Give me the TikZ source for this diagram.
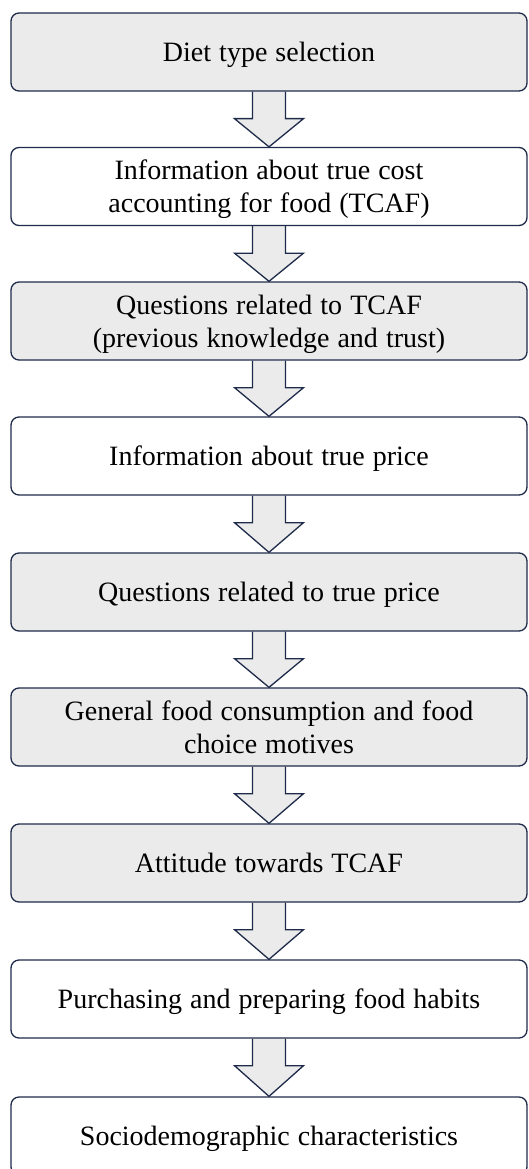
\documentclass[tikz,border=0pt]{standalone}
\usepackage{fontspec}
\setmainfont[WordSpace=1.15]{Liberation Serif}
\usetikzlibrary{calc,backgrounds}
\definecolor{navy}{HTML}{1F2B4A}
\definecolor{boxgrey}{HTML}{EBEBEB}
\def\blockarrow(#1)(#2){\begin{scope}[on background layer]
\draw[arrowline] ($(#1.south)+(-16.5,0)$) -- ++(0,27) -- ++(-18,0) -- (#2.north) -- ($(#1.south)+(34.5,27)$) -- ++(-18,0) -- ($(#1.south)+(16.5,0)$);
\end{scope}}

\begin{document}
\begin{tikzpicture}[x=1pt,y=-1pt,
	stage/.style={draw=navy,line width=1.3pt,rounded corners=8pt,minimum width=516pt,minimum height=78pt,align=center,font=\fontsize{28}{33}\selectfont,inner sep=0pt,text depth=0pt},
	greystage/.style={stage,fill=boxgrey},
	whitestage/.style={stage,fill=white},
	arrowline/.style={draw=navy,line width=1.3pt,fill=boxgrey,line join=miter}]
				%%%%% START %%%%%
				\useasboundingbox (0,0) rectangle (528,1169);
				
				\node[greystage] (diet) at (269, 52) {Diet type selection};
				\node[whitestage] (infotcaf) at (269, 186.5) {Information about true cost\\accounting for food (TCAF)};
				\node[greystage] (qtcaf) at (269, 321) {Questions related to TCAF\\(previous knowledge and trust)};
				\node[whitestage] (infoprice) at (269, 456) {Information about true price};
				\node[greystage] (qprice) at (269, 592) {Questions related to true price};
				\node[greystage] (general) at (269, 727) {General food consumption and food\\choice motives};
				\node[greystage] (attitude) at (269, 863) {Attitude towards TCAF};
				\node[whitestage] (purchasing) at (269, 999) {Purchasing and preparing food habits};
				\node[whitestage] (socio) at (269, 1136) {Sociodemographic characteristics};
				
				\blockarrow(diet)(infotcaf)
				\blockarrow(infotcaf)(qtcaf)
				\blockarrow(qtcaf)(infoprice)
				\blockarrow(infoprice)(qprice)
				\blockarrow(qprice)(general)
				\blockarrow(general)(attitude)
				\blockarrow(attitude)(purchasing)
				\blockarrow(purchasing)(socio)
				%%%%% END %%%%%
\end{tikzpicture}
\end{document}
